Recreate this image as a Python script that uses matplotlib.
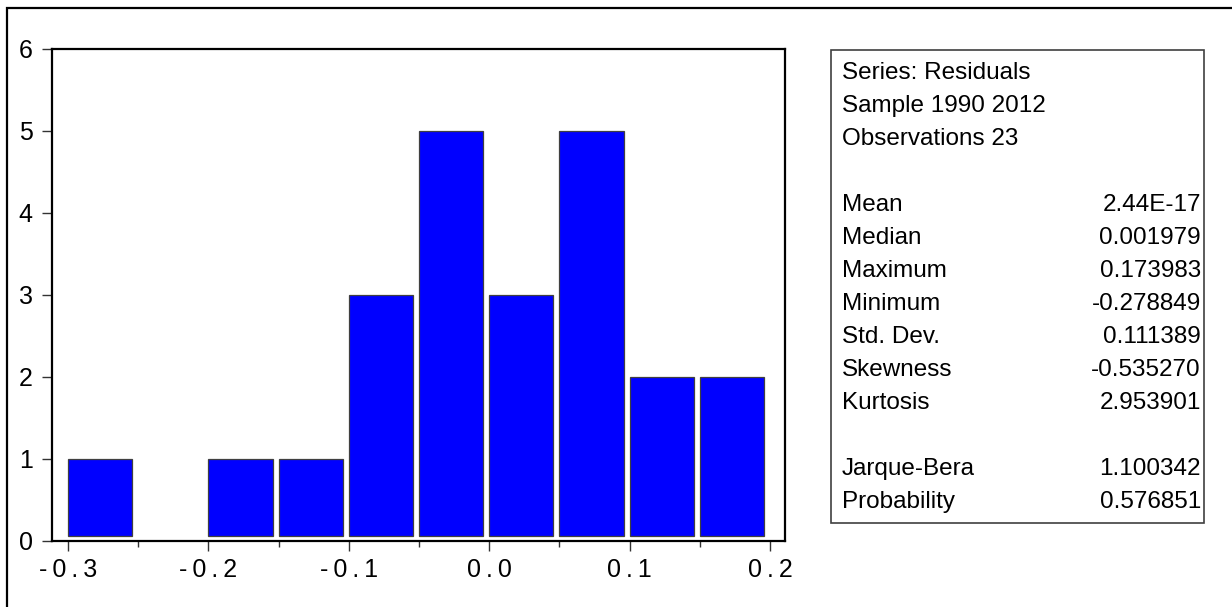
import numpy as np
import matplotlib
matplotlib.use("Agg")
import matplotlib.pyplot as plt
from matplotlib.patches import Rectangle

# histogram of residuals (bin left edges and counts)
bin_left = np.array([-0.30, -0.25, -0.20, -0.15, -0.10, -0.05, 0.00, 0.05, 0.10, 0.15])
counts = np.array([1, 0, 1, 1, 3, 5, 3, 5, 2, 2])
bin_width = 0.05

x_ticks = [-0.3, -0.2, -0.1, 0.0, 0.1, 0.2]
x_tick_labels = ["-0.3", "-0.2", "-0.1", "0.0", "0.1", "0.2"]
y_ticks = [0, 1, 2, 3, 4, 5, 6]

# statistics panel
stat_header = ["Series: Residuals", "Sample 1990 2012", "Observations 23"]
stat_names = ["Mean", "Median", "Maximum", "Minimum", "Std. Dev.", "Skewness", "Kurtosis"]
stat_values = ["2.44E-17", "0.001979", "0.173983", "-0.278849", "0.111389", "-0.535270", "2.953901"]
test_names = ["Jarque-Bera", "Probability"]
test_values = ["1.100342", "0.576851"]

plt.rcParams['font.family'] = ['Liberation Sans', 'DejaVu Sans']

W, H = 1232, 607
fig = plt.figure(figsize=(W / 100, H / 100), dpi=100)

def fx(px):
    return px / W

def fy(py):
    return 1 - py / H

# outer frame
fig.patches.append(Rectangle((fx(7), fy(640)), fx(1240) - fx(7), fy(8) - fy(640),
                             transform=fig.transFigure, fill=False,
                             edgecolor='black', lw=1.6))

ax = fig.add_axes([fx(52), fy(541), fx(785) - fx(52), fy(49) - fy(541)])

base = 0.06
ax.bar(bin_left, counts - base, bottom=base, width=bin_width * 0.914, align='edge',
       color='#0000FF', edgecolor='#404040', linewidth=0.9)
# hide empty bins
for p, c in zip(ax.patches, counts):
    if c == 0:
        p.set_visible(False)

ax.set_xlim(-0.3114, 0.2107)
ax.set_ylim(0, 6)
ax.set_xticks(x_ticks)
# EViews spreads the characters of the axis labels a little
ax.set_xticklabels(["\u2009".join(s) for s in x_tick_labels])
ax.set_xticks(bin_left[1::2].tolist(), minor=True)
ax.set_yticks(y_ticks)

for s in ax.spines.values():
    s.set_linewidth(1.6)
ax.tick_params(axis='both', which='major', direction='out', length=7, width=1.0,
               labelsize=18, color='#333333')
ax.tick_params(axis='x', which='major', pad=5)
ax.tick_params(axis='y', which='major', pad=7)
ax.tick_params(axis='x', which='minor', direction='out', length=4, width=1.0, color='#333333')

# statistics box
fig.patches.append(Rectangle((fx(831), fy(523)), fx(1204) - fx(831), fy(50) - fy(523),
                             transform=fig.transFigure, fill=False,
                             edgecolor='#404040', lw=1.2))

rows = []
for t in stat_header:
    rows.append((t, ""))
rows.append(("", ""))
for n, v in zip(stat_names, stat_values):
    rows.append((n, v))
rows.append(("", ""))
for n, v in zip(test_names, test_values):
    rows.append((n, v))

for i, (name, val) in enumerate(rows):
    yy = fy(73 + 33 * i)
    if name:
        fig.text(fx(842), yy, name, ha='left', va='center', fontsize=17.5)
    if val:
        fig.text(fx(1201), yy, val, ha='right', va='center', fontsize=17.5)

fig.savefig("out.png", dpi=100)
